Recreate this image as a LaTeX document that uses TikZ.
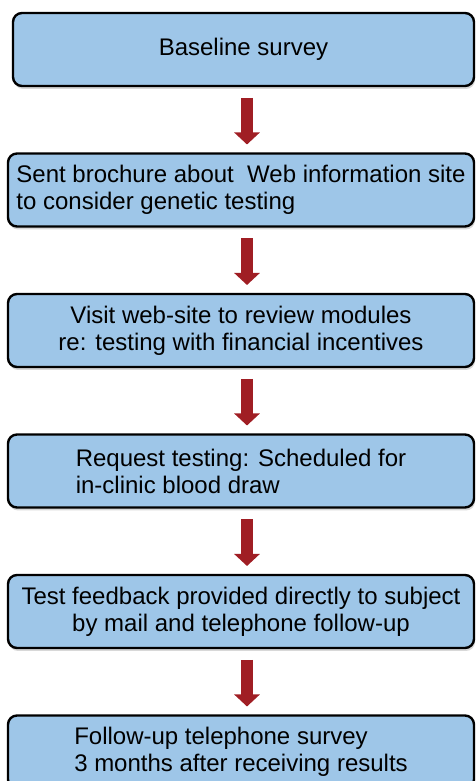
\documentclass[tikz,border=0pt]{standalone}
\usepackage{fontspec}
\setmainfont{Liberation Sans}
\usetikzlibrary{arrows.meta,positioning,shadows}
\definecolor{boxblue}{RGB}{158,198,232}
\definecolor{flowred}{RGB}{160,30,36}

\begin{document}
\begin{tikzpicture}[x=1pt,y=1pt,node distance=67.5pt,
  box/.style={draw=black,line width=2.4pt,fill=boxblue,rounded corners=9pt,minimum width=466pt,minimum height=73pt,
    outer sep=0pt,inner sep=3pt,align=center,font=\fontsize{24}{27}\selectfont,
    drop shadow={shadow xshift=1pt,shadow yshift=-3pt,fill=black!30,opacity=.5}},
  flow/.style={line width=12pt,flowred,-{Triangle[width=25pt,length=12pt]},shorten <=12pt,shorten >=9pt}]
\clip (0,0) rectangle (475,781);
\coordinate (ax) at (247,0);
\node[box,minimum width=461pt] (base) at (243.5,731.5) {Baseline survey};
\node[box,below=of base,xshift=-2.5pt,align=left] (brochure) {Sent brochure about~ Web information site\\to consider genetic testing};
\node[box,below=of brochure] (website) {Visit web-site to review modules\\re: testing with financial incentives};
\node[box,below=of website,align=left] (request) {Request testing: Scheduled for\\in-clinic blood draw};
\node[box,below=of request] (feedback) {Test feedback provided directly to subject\\by mail and telephone follow-up};
\node[box,below=of feedback,align=left] (followup) {Follow-up telephone survey\\3 months after receiving results};
% block arrows between the steps
\foreach \a/\b in {base/brochure,brochure/website,website/request,request/feedback,feedback/followup}
  \draw[flow] (\a.south -| ax) -- (\b.north -| ax);
\end{tikzpicture}
\end{document}
